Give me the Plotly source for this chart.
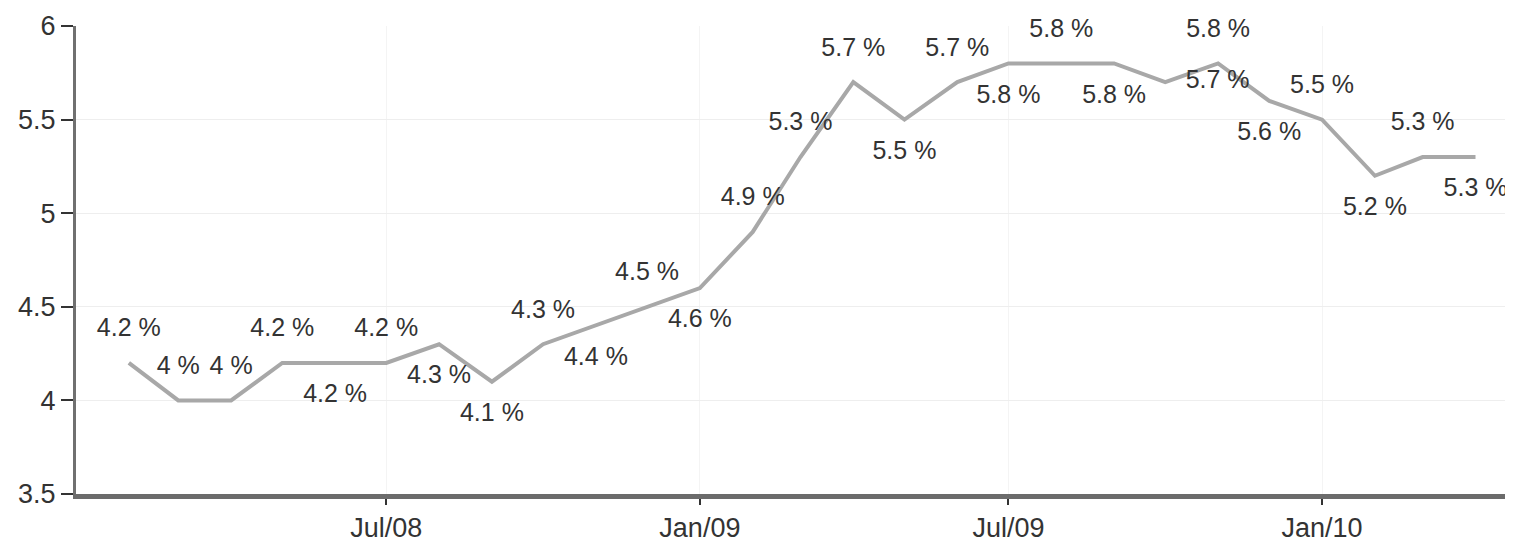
import plotly.graph_objects as go

# ---- data ----
months = ["2008-02-01", "2008-03-01", "2008-04-01", "2008-05-01", "2008-06-01",
          "2008-07-01", "2008-08-01", "2008-09-01", "2008-10-01", "2008-11-01",
          "2008-12-01", "2009-01-01", "2009-02-01", "2009-03-01", "2009-04-01",
          "2009-05-01", "2009-06-01", "2009-07-01", "2009-08-01", "2009-09-01",
          "2009-10-01", "2009-11-01", "2009-12-01", "2010-01-01", "2010-02-01",
          "2010-03-01", "2010-04-01"]
rate = [4.2, 4.0, 4.0, 4.2, 4.2, 4.2, 4.3, 4.1, 4.3, 4.4, 4.5,
        4.6, 4.9, 5.3, 5.7, 5.5, 5.7, 5.8, 5.8, 5.8, 5.7, 5.8, 5.6,
        5.5, 5.2, 5.3, 5.3]
x_ticks = ["2008-07-01", "2009-01-01", "2009-07-01", "2010-01-01"]
x_tick_labels = ["Jul/08", "Jan/09", "Jul/09", "Jan/10"]
y_ticks = [3.5, 4, 4.5, 5, 5.5, 6]
y_tick_labels = ["3.5", "4", "4.5", "5", "5.5", "6"]

# ---- styles ----
label_pos = ["top center", "top center", "top center", "top center", "bottom center",
             "top center", "bottom center", "bottom center", "top center", "bottom center",
             "top center", "bottom center", "top center", "top center", "top center",
             "bottom center", "top center", "bottom center", "top center", "bottom center",
             "middle right", "top center", "bottom center", "top center", "bottom center",
             "top center", "bottom center"]

labels = [f"{v:g} %" for v in rate]
FONT = "Liberation Sans, Arial, sans-serif"

fig = go.Figure()
fig.add_trace(go.Scatter(
    x=months, y=rate, mode="lines+markers+text",
    text=labels, textposition=label_pos,
    textfont=dict(family=FONT, size=25, color="#333333"),
    line=dict(color="#a8a8a8", width=4),
    marker=dict(size=31, color="rgba(0,0,0,0)"),
    cliponaxis=False, showlegend=False, hoverinfo="skip",
))

fig.update_layout(
    width=1505, height=535,
    margin=dict(l=68, r=0, t=18, b=46),
    paper_bgcolor="white", plot_bgcolor="white",
    font=dict(family=FONT, size=27, color="#333333"),
)
fig.update_xaxes(
    type="date", range=["2008-01-01", "2010-04-23"],
    tickvals=x_ticks, ticktext=x_tick_labels,
    ticks="outside", ticklen=6, tickwidth=2, tickcolor="#333333",
    showline=True, linecolor="#6b6b6b", linewidth=5,
    showgrid=True, gridcolor="#f4f4f4", gridwidth=1,
    zeroline=False,
)
fig.update_yaxes(
    range=[3.5, 6], tickvals=y_ticks, ticktext=y_tick_labels,
    ticks="outside", ticklen=12, tickwidth=2, tickcolor="#333333",
    showline=True, linecolor="#707070", linewidth=3,
    showgrid=True, gridcolor="#eeeeee", gridwidth=1,
    zeroline=False,
)

fig.write_html("out.html")
